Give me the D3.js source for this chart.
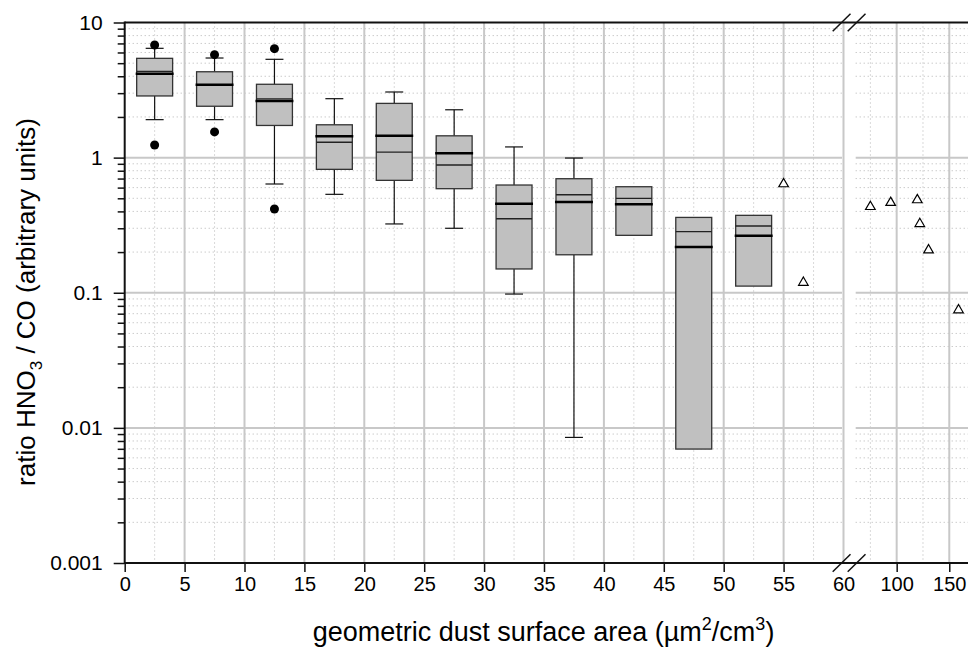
<!DOCTYPE html>
<html>
<head>
<meta charset="utf-8">
<script src="https://cdn.jsdelivr.net/npm/d3@7"></script>
<style>
  body { margin: 0; background: #fff; }
  svg { display: block; font-family: "Liberation Sans", Arial, sans-serif; }
</style>
</head>
<body>
<div id="chart"></div>
<script>
// box statistics per 5 µm2/cm3 bin
const binCenters = [2.5, 7.5, 12.5, 17.5, 22.5, 27.5, 32.5, 37.5, 42.5, 47.5, 52.5];
const q1 = [2.86, 2.40, 1.73, 0.819, 0.679, 0.589, 0.150, 0.191, 0.266, 0.00697, 0.112];
const q3 = [5.43, 4.32, 3.49, 1.75, 2.52, 1.45, 0.627, 0.698, 0.609, 0.361, 0.374];
const medians = [4.35, 3.46, 2.72, 1.30, 1.10, 0.882, 0.353, 0.531, 0.500, 0.283, 0.312];
const means = [4.18, 3.46, 2.63, 1.44, 1.45, 1.076, 0.456, 0.469, 0.451, 0.218, 0.264];
const whiskLow = [1.91, 1.91, 0.638, 0.535, 0.323, 0.300, 0.0978, 0.0085, null, null, null];
const whiskHigh = [6.44, 5.46, 5.34, 2.73, 3.06, 2.26, 1.20, 0.993, null, null, null];
const outliers = [[2.5, 6.81], [2.5, 1.24], [7.5, 5.78], [7.5, 1.55], [12.5, 6.40], [12.5, 0.417]];

// single measurements (triangles)
const singleX = [55.0, 56.65, 75, 94.3, 119.6, 122, 130.3, 158.8];
const singleY = [0.638, 0.119, 0.433, 0.464, 0.486, 0.324, 0.207, 0.0745];

const xTicksLeft = [0, 5, 10, 15, 20, 25, 30, 35, 40, 45, 50, 55, 60];
const xTicksRight = [100, 150];
const yTicks = [0.001, 0.01, 0.1, 1, 10];
const yLabels = ["0.001", "0.01", "0.1", "1", "10"];

const width = 968, height = 649;
const plotTop = 22.5, plotBottom = 563, plotLeft = 124.7;

const svg = d3.select("#chart").append("svg")
    .attr("width", width)
    .attr("height", height);

// scales: broken x axis (two panels) and log y
const xL = d3.scaleLinear().domain([0, 60]).range([plotLeft, 843.5]);
const xR = d3.scaleLinear().domain([60, 167.8]).range([854.6, 968]);
const xPos = v => v <= 60 ? xL(v) : xR(v);
const y = d3.scaleLog().domain([0.001, 10]).range([plotBottom, plotTop]);

// minor y values 2..9 in every decade
const yMinor = [];
[0.001, 0.01, 0.1, 1].forEach(d => { for (let k = 2; k <= 9; k++) yMinor.push(d * k); });

const grid = svg.append("g");
const panels = [[plotLeft, 842], [855.7, width]];

// horizontal dotted minor grid
panels.forEach(p => {
    grid.selectAll(null).data(yMinor).enter().append("line")
        .attr("x1", p[0]).attr("x2", p[1])
        .attr("y1", d => y(d)).attr("y2", d => y(d))
        .attr("stroke", "#b4b4b4").attr("stroke-width", 1)
        .attr("stroke-dasharray", "1,3");
});

// vertical dotted minor grid
const xMinorL = d3.range(2.5, 60, 5);
const xMinorR = [75, 125];
grid.selectAll(null).data(xMinorL.map(xL).concat(xMinorR.map(xR))).enter().append("line")
    .attr("x1", d => d).attr("x2", d => d)
    .attr("y1", plotTop).attr("y2", plotBottom)
    .attr("stroke", "#b4b4b4").attr("stroke-width", 1)
    .attr("stroke-dasharray", "1,3");

// major grid
panels.forEach(p => {
    grid.selectAll(null).data(yTicks.slice(1, 4)).enter().append("line")
        .attr("x1", p[0]).attr("x2", p[1])
        .attr("y1", d => y(d)).attr("y2", d => y(d))
        .attr("stroke", "#c8c8c8").attr("stroke-width", 2);
});
grid.selectAll(null).data(xTicksLeft.slice(1).map(xL).concat(xTicksRight.map(xR))).enter().append("line")
    .attr("x1", d => d).attr("x2", d => d)
    .attr("y1", plotTop).attr("y2", plotBottom)
    .attr("stroke", "#c8c8c8").attr("stroke-width", 2);

// boxes
const bw = 1.5; // half box width in data units
const boxes = svg.append("g");
binCenters.forEach((c, i) => {
    const g = boxes.append("g");
    if (whiskLow[i] != null) {
        g.append("line")
            .attr("x1", xL(c)).attr("x2", xL(c))
            .attr("y1", y(q1[i])).attr("y2", y(whiskLow[i]))
            .attr("stroke", "#111").attr("stroke-width", 1.2);
        g.append("line")
            .attr("x1", xL(c - 0.75)).attr("x2", xL(c + 0.75))
            .attr("y1", y(whiskLow[i])).attr("y2", y(whiskLow[i]))
            .attr("stroke", "#111").attr("stroke-width", 1.2);
    }
    if (whiskHigh[i] != null) {
        g.append("line")
            .attr("x1", xL(c)).attr("x2", xL(c))
            .attr("y1", y(q3[i])).attr("y2", y(whiskHigh[i]))
            .attr("stroke", "#111").attr("stroke-width", 1.2);
        g.append("line")
            .attr("x1", xL(c - 0.75)).attr("x2", xL(c + 0.75))
            .attr("y1", y(whiskHigh[i])).attr("y2", y(whiskHigh[i]))
            .attr("stroke", "#111").attr("stroke-width", 1.2);
    }
    g.append("rect")
        .attr("x", xL(c - bw))
        .attr("y", y(q3[i]))
        .attr("width", xL(c + bw) - xL(c - bw))
        .attr("height", y(q1[i]) - y(q3[i]))
        .attr("fill", "#c0c0c0")
        .attr("stroke", "#333").attr("stroke-width", 1.3);
    g.append("line")
        .attr("x1", xL(c - bw)).attr("x2", xL(c + bw))
        .attr("y1", y(medians[i])).attr("y2", y(medians[i]))
        .attr("stroke", "#222").attr("stroke-width", 1.3);
    g.append("line")
        .attr("x1", xL(c - bw) - 1).attr("x2", xL(c + bw) + 1)
        .attr("y1", y(means[i])).attr("y2", y(means[i]))
        .attr("stroke", "#000").attr("stroke-width", 2.5);
});

// outliers
svg.append("g").selectAll("circle").data(outliers).enter().append("circle")
    .attr("cx", d => xL(d[0]))
    .attr("cy", d => y(d[1]))
    .attr("r", 4.5)
    .attr("fill", "#000");

// single points
svg.append("g").selectAll("path").data(singleX).enter().append("path")
    .attr("transform", (d, i) => `translate(${xPos(d)},${y(singleY[i])})`)
    .attr("d", d3.symbol().type(d3.symbolTriangle).size(40))
    .attr("fill", "#fff")
    .attr("stroke", "#000").attr("stroke-width", 1.2);

// frame lines
const frame = svg.append("g").attr("stroke", "#111").attr("stroke-width", 2);
frame.append("line").attr("x1", plotLeft).attr("x2", width).attr("y1", plotTop).attr("y2", plotTop);
frame.append("line").attr("x1", plotLeft).attr("x2", width).attr("y1", plotBottom).attr("y2", plotBottom);
frame.append("line").attr("x1", plotLeft).attr("x2", plotLeft).attr("y1", plotTop - 1).attr("y2", plotBottom + 1);

// y axis
svg.append("g")
    .attr("transform", `translate(${plotLeft},0)`)
    .call(d3.axisLeft(y).tickValues(yMinor).tickSize(7).tickFormat(""))
    .call(g => g.select(".domain").remove())
    .call(g => g.selectAll("line").attr("stroke", "#111").attr("stroke-width", 1.5));
svg.append("g")
    .attr("transform", `translate(${plotLeft},0)`)
    .call(d3.axisLeft(y).tickValues(yTicks).tickSize(11).tickPadding(11)
        .tickFormat((d, i) => yLabels[i]))
    .call(g => g.select(".domain").remove())
    .call(g => g.selectAll("line").attr("stroke", "#111").attr("stroke-width", 1.5))
    .call(g => g.selectAll("text").attr("font-size", 21).attr("fill", "#000")
        .attr("font-family", "Liberation Sans, Arial, sans-serif"));

// x axes (left and right panel)
svg.append("g")
    .attr("transform", `translate(0,${plotBottom})`)
    .call(d3.axisBottom(xL).tickValues(xTicksLeft).tickSize(9).tickPadding(5))
    .call(g => g.select(".domain").remove())
    .call(g => g.selectAll(".tick").filter(d => d === 60).select("line").remove())
    .call(g => g.selectAll("line").attr("stroke", "#111").attr("stroke-width", 1.5))
    .call(g => g.selectAll("text").attr("font-size", 20).attr("fill", "#000")
        .attr("font-family", "Liberation Sans, Arial, sans-serif"));
svg.append("g")
    .attr("transform", `translate(0,${plotBottom})`)
    .call(d3.axisBottom(xR).tickValues(xTicksRight).tickSize(9).tickPadding(5))
    .call(g => g.select(".domain").remove())
    .call(g => g.selectAll("line").attr("stroke", "#111").attr("stroke-width", 1.5))
    .call(g => g.selectAll("text").attr("font-size", 20).attr("fill", "#000")
        .attr("font-family", "Liberation Sans, Arial, sans-serif"));

// axis break marks
[plotTop, plotBottom].forEach(yy => {
    [0, 15].forEach(dx => {
        svg.append("line")
            .attr("x1", 832.7 + dx).attr("y1", yy + 8.7)
            .attr("x2", 850.5 + dx).attr("y2", yy - 8.7)
            .attr("stroke", "#111").attr("stroke-width", 1.5);
    });
});

// axis titles
const xTitle = svg.append("text")
    .attr("x", 543.5).attr("y", 641)
    .attr("text-anchor", "middle")
    .attr("font-size", 27);
xTitle.append("tspan").text("geometric dust surface area (µm");
xTitle.append("tspan").attr("dy", -11).attr("font-size", 18).text("2");
xTitle.append("tspan").attr("dy", 11).text("/cm");
xTitle.append("tspan").attr("dy", -11).attr("font-size", 18).text("3");
xTitle.append("tspan").attr("dy", 11).text(")");

const yTitle = svg.append("text")
    .attr("transform", "translate(35,302) rotate(-90)")
    .attr("text-anchor", "middle")
    .attr("font-size", 26);
yTitle.append("tspan").text("ratio HNO");
yTitle.append("tspan").attr("dy", 7).attr("font-size", 17).text("3");
yTitle.append("tspan").attr("dy", -7).text(" / CO (arbitrary units)");
</script>
</body>
</html>
